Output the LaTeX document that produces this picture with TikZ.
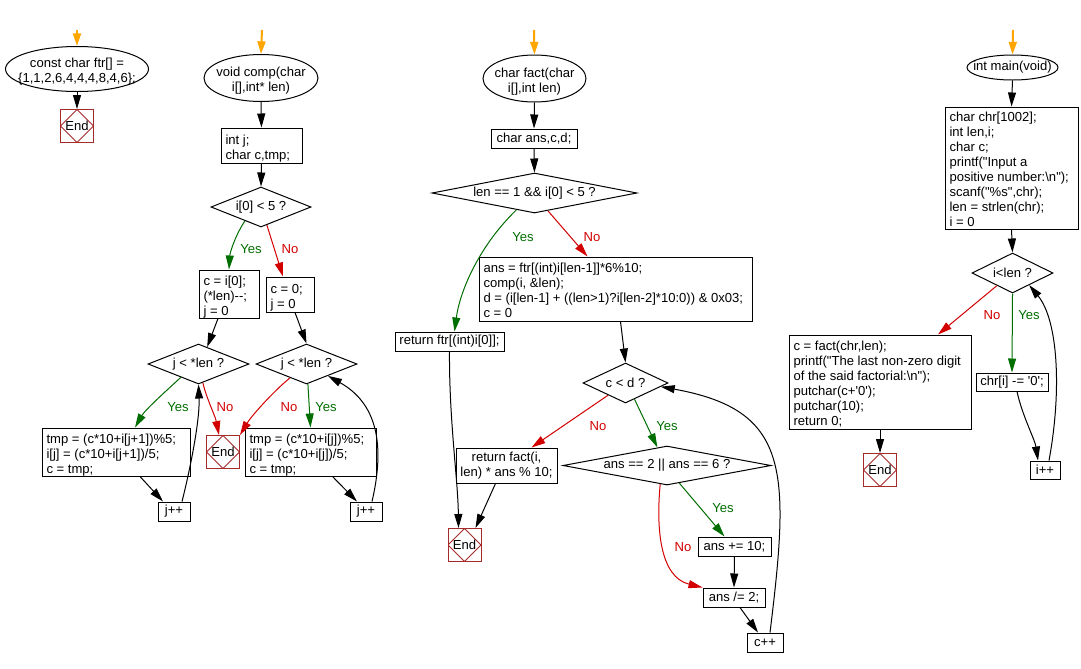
\documentclass[tikz,border=0pt]{standalone}
\usepackage{fontspec}
\newfontfamily\fs{Liberation Sans}
\usetikzlibrary{shapes.geometric,arrows.meta,calc}
\definecolor{yesgreen}{RGB}{0,110,0}
\definecolor{nored}{RGB}{210,0,0}
\definecolor{endred}{RGB}{165,42,42}
\definecolor{startorange}{RGB}{255,165,0}
\newlength\mylen
\newcommand{\mylines}[1]{\makebox[0pt]{\begin{tabular}{@{}c@{}}#1\\[-4.5pt]\end{tabular}}}
\newcommand{\myone}[1]{\makebox[0pt]{#1}}
\newcommand{\lft}[2]{\setlength\mylen{#1pt}\setlength\mylen{0.75\mylen}\makebox[\mylen][l]{\begin{tabular}{@{}l@{}}#2\\[-4.5pt]\end{tabular}}}
\tikzset{
  base/.style={font=\fs\fontsize{9.8}{11.25}\selectfont, inner sep=0pt, line width=0.75pt, fill=white},
  box/.style={base, draw, rectangle, align=left, inner xsep=2pt},
  cbox/.style={base, draw, rectangle, align=center, inner xsep=2pt},
  term/.style={base, draw, ellipse},
  dec/.style={base, draw, diamond},
  endbox/.style={base, draw=endred, rectangle, minimum width=24.75pt, minimum height=24.75pt,
    path picture={\draw[endred, line width=0.75pt] (path picture bounding box.north) -- (path picture bounding box.east) -- (path picture bounding box.south) -- (path picture bounding box.west) -- cycle;}},
  sz/.style 2 args={minimum width={#1*0.75pt}, minimum height={#2*0.75pt}},
  arr/.style={draw=black, line width=0.75pt, -{Triangle[length=10.5pt,width=6pt]}},
  yarr/.style={arr, draw=yesgreen},
  narr/.style={arr, draw=nored},
  orarr/.style={draw=startorange, line width=1.5pt, -{Triangle[length=9.5pt,width=6pt]}},
  ylab/.style={font=\fs\fontsize{9.8}{11.25}\selectfont, text=yesgreen, inner sep=0pt},
  nlab/.style={font=\fs\fontsize{9.8}{11.25}\selectfont, text=nored, inner sep=0pt},
}
\begin{document}
\begin{tikzpicture}[x=0.75pt,y=-0.75pt]
\fill[white] (0,0) rectangle (1081,668);
\useasboundingbox (0,0) rectangle (1081,668);
% ---------- column 1
\coordinate (s1) at (77,30);
\node[term,sz={143}{45}] (e1) at (77,69) {\mylines{const char ftr[] =\\\{1,1,2,6,4,4,4,8,4,6\};}};
\node[endbox] (end1) at (77,126) {End};
% ---------- column 2
\coordinate (s2) at (262,30);
\node[term,sz={114}{47}] (e2) at (261,78) {\mylines{void comp(char\\i[],int* len)}};
\node[box,sz={81}{35}] (b2a) at (261.5,145.5) {\lft{72}{int j;\\char c,tmp;}};
\node[dec,sz={100}{40}] (d2a) at (261,207) {\myone{i[0] < 5 ?}};
\node[box,sz={60}{48}] (b2y) at (229,294) {\lft{51}{c = i[0];\\(*len)--;\\j = 0}};
\node[box,sz={48}{35}] (b2n) at (290,294.5) {\lft{39}{c = 0;\\j = 0}};
\node[dec,sz={101}{40}] (d2b) at (198.5,364) {\myone{j < *len ?}};
\node[dec,sz={101}{40}] (d2c) at (306.5,364) {\myone{j < *len ?}};
\node[box,sz={148}{48}] (bL) at (116,452) {\lft{139}{tmp = (c*10+i[j+1])\%5;\\i[j] = (c*10+i[j+1])/5;\\c = tmp;}};
\node[endbox] (end2) at (223,452) {End};
\node[box,sz={131}{48}] (bR) at (310.5,452) {\lft{122}{tmp = (c*10+i[j])\%5;\\i[j] = (c*10+i[j])/5;\\c = tmp;}};
\node[box,sz={32}{19}] (jL) at (174,511.5) {j++};
\node[box,sz={32}{19}] (jR) at (366,511.5) {j++};
% ---------- column 3
\coordinate (s3) at (534,30);
\node[term,sz={103}{47}] (e3) at (534.5,78.5) {\mylines{char fact(char\\i[],int len)}};
\node[box,sz={86}{19}] (b3a) at (534,138.5) {char ans,c,d;};
\node[dec,sz={205}{40}] (d3a) at (534.5,193) {\myone{len == 1 \&\& i[0] < 5 ?}};
\node[box,sz={273}{64}] (bBig) at (615.5,289) {\lft{264}{ans = ftr[(int)i[len-1]]*6\%10;\\comp(i, \&len);\\d = (i[len-1] + ((len>1)?i[len-2]*10:0)) \& 0x03;\\c = 0}};
\node[box,sz={109}{19}] (bRF) at (449.5,341.5) {return ftr[(int)i[0]];};
\node[dec,sz={85}{40}] (dcd) at (625.5,383) {\myone{c < d ?}};
\node[cbox,sz={101}{35}] (bRfact) at (506.5,465.5) {return fact(i,\\len) * ans \% 10;};
\node[dec,sz={208}{39}] (dans) at (667,465.5) {\myone{ans == 2 || ans == 6 ?}};
\node[box,sz={73}{19}] (bA10) at (734.5,546.5) {ans += 10;};
\node[box,sz={62}{19}] (bA2) at (734,597.5) {ans /= 2;};
\node[box,sz={36}{19}] (bC) at (765,642.5) {c++};
\node[endbox] (end3) at (464.5,545) {End};
% ---------- column 4
\coordinate (s4) at (1013,30);
\node[term,sz={91}{25}] (e4) at (1012.5,67.5) {\myone{int main(void)}};
\node[box,sz={133}{122}] (b4) at (1011.5,168) {\lft{124}{char chr[1002];\\int len,i;\\char c;\\printf("Input a\\positive number:\textbackslash n");\\scanf("\%s",chr);\\len = strlen(chr);\\i = 0}};
\node[dec,sz={81}{40}] (d4) at (1012.5,273) {\myone{i<len ?}};
\node[box,sz={182}{94}] (b5) at (880,382) {\lft{173}{c = fact(chr,len);\\printf("The last non-zero digit\\of the said factorial:\textbackslash n");\\putchar(c+'0');\\putchar(10);\\return 0;}};
\node[box,sz={72}{18}] (chr) at (1012,382) {chr[i] -= '0';};
\node[box,sz={30}{18}] (ipp) at (1045,470) {i++};
\node[endbox] (end4) at (880,470) {End};
% ---------- labels
\node[ylab] (ly1) at (251,249) {Yes};
\node[nlab] (ln1) at (290,249) {No};
\node[ylab] (ly2) at (178,407) {Yes};
\node[nlab] (ln2) at (225,407) {No};
\node[nlab] (ln3) at (289,407) {No};
\node[ylab] (ly3) at (326,407) {Yes};
\node[ylab] (ly4) at (523,237) {Yes};
\node[nlab] (ln4) at (592,237) {No};
\node[nlab] (ln5) at (598,426) {No};
\node[ylab] (ly5) at (667,426) {Yes};
\node[ylab] (ly6) at (723,508) {Yes};
\node[nlab] (ln6) at (683,547) {No};
\node[nlab] (ln7) at (992,315) {No};
\node[ylab] (ly7) at (1029,315) {Yes};
% ---------- connectors column 1
\draw[orarr] (s1) -- (e1.north);
\draw[arr] (e1.south) -- (end1.north);
% ---------- connectors column 2
\draw[orarr] (s2) -- (e2.north);
\draw[arr] (e2.south) -- (b2a.north);
\draw[arr] (b2a.south) -- (d2a.north);
\draw[yarr] (d2a.221) .. controls (236,234) and (230,252) .. (b2y.north);
\draw[narr] (d2a.288) -- ($(b2n.north)+(-7,0)$);
\draw[arr] ($(b2y.south)+(-11,0)$) -- (d2b.63);
\draw[arr] ($(b2n.south)+(5,0)$) -- (d2c.north);
\draw[yarr] (d2b.217) .. controls (166,391) and (145,410) .. ($(bL.north)+(19,0)$);
\draw[narr] (d2b.283) .. controls (207,400) and (215,415) .. ($(end2.north)+(-4,0)$);
\draw[narr] (d2c.220) .. controls (275,390) and (252,415) .. (end2.north east);
\draw[yarr] (d2c.274) -- (bR.north);
\draw[arr] ($(bL.south)+(24,0)$) -- ($(jL.north)+(-11,0)$);
\draw[arr] ($(bR.south)+(22,0)$) -- ($(jR.north)+(-9,0)$);
\draw[arr] ($(jL.north)+(8,0)$) .. controls (190,470) and (200,420) .. (d2b.south);
\draw[arr] ($(jR.north)+(6,0)$) .. controls (384,450) and (380,405) .. (d2c.331);
% ---------- connectors column 3
\draw[orarr] (s3) -- (e3.north);
\draw[arr] (e3.south) -- (b3a.north);
\draw[arr] (b3a.south) -- (d3a.north);
\draw[yarr] (d3a.223) .. controls (480,245) and (460,290) .. ($(bRF.north)+(5,0)$);
\draw[narr] (d3a.307) -- ($(bBig.north)+(-28,0)$);
\draw[arr] ($(bBig.south)+(5,0)$) -- (dcd.north);
\draw[narr] (dcd.215) -- ($(bRfact.north)+(25,0)$);
\draw[yarr] (dcd.299) -- (dans.118);
\draw[arr] (bRF.south) .. controls (449,420) and (458,480) .. ($(end3.north)+(-6,0)$);
\draw[arr] ($(bRfact.south)+(-11,0)$) -- ($(end3.north)+(11,0)$);
\draw[yarr] (dans.305) -- ($(bA10.north)+(-10,0)$);
\draw[narr] (dans.250) .. controls (656,529) and (660,577) .. (bA2.north west);
\draw[arr] (bA10.south) -- (bA2.north);
\draw[arr] ($(bA2.south)+(6,0)$) -- ($(bC.north)+(-7,0)$);
\draw[arr] ($(bC.north)+(5,0)$) .. controls (790,470) and (790,410) .. (dcd.354);
% ---------- connectors column 4
\draw[orarr] (s4) -- (e4.north);
\draw[arr] (e4.south) -- (b4.north);
\draw[arr] (b4.south) -- (d4.north);
\draw[narr] (d4.219) -- ($(b5.north)+(58,0)$);
\draw[yarr] (d4.south) -- (chr.north);
\draw[arr] ($(chr.south)+(5,0)$) .. controls (1022,415) and (1035,440) .. ($(ipp.north)+(-7,0)$);
\draw[arr] ($(ipp.north)+(4,0)$) .. controls (1062,390) and (1058,320) .. (d4.324);
\draw[arr] (b5.south) -- (end4.north);
\end{tikzpicture}
\end{document}
